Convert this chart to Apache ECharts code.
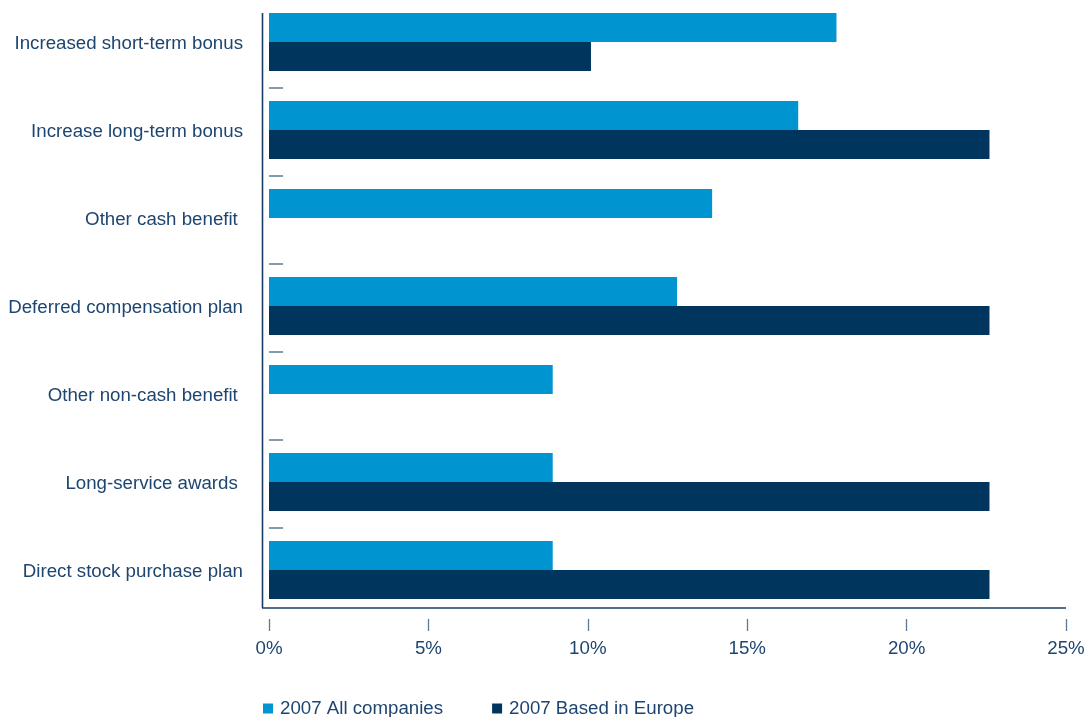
<!DOCTYPE html>
<html>
<head>
<meta charset="utf-8">
<script src="https://cdn.jsdelivr.net/npm/echarts@6/dist/echarts.min.js"></script>
<style>
  html, body { margin: 0; padding: 0; background: #ffffff; }
  #chart { width: 1088px; height: 717px; }
</style>
</head>
<body>
<div id="chart"></div>
<script>
// Benefit types (top to bottom) and share of companies offering each, in percent
const categories = [
  'Increased short-term bonus',
  'Increase long-term bonus',
  'Other cash benefit ',
  'Deferred compensation plan',
  'Other non-cash benefit ',
  'Long-service awards ',
  'Direct stock purchase plan'
];
const seriesNames = ['2007 All companies', '2007 Based in Europe'];
const allCompanies = [17.8, 16.6, 13.9, 12.8, 8.9, 8.9, 8.9];
const basedInEurope = [10.1, 22.6, 0, 22.6, 0, 22.6, 22.6];
const xTicks = [0, 5, 10, 15, 20, 25];

const FONT = '"Liberation Sans", Arial, Helvetica, sans-serif';
const TEXT = '#1d4570';
const LIGHT = '#0094d1';
const DARK = '#00365e';
const TICK = '#5c7995';
const AXIS = '#1b3c62';

// Bars sit slightly above the band middle; separators and names use their own grid.
const barGrid = { left: 269, right: 22, top: -2, height: 616, outerBoundsMode: 'none' };
const sepGrid = { left: 269, right: 22, top: 0, height: 616, outerBoundsMode: 'none' };

const chart = echarts.init(document.getElementById('chart'), null, { renderer: 'canvas' });

// One slot per band boundary, used only for the short separators between categories.
const boundarySlots = [''].concat(categories.map(() => ''));

chart.setOption({
  animation: false,
  backgroundColor: '#ffffff',
  textStyle: { fontFamily: FONT },
  grid: [barGrid, sepGrid],
  legend: {
    left: 258,
    top: 694,
    itemWidth: 10,
    itemHeight: 10,
    itemGap: 49,
    icon: 'rect',
    textStyle: { fontFamily: FONT, fontSize: 18.7, color: TEXT, padding: [0, 0, 0, 2] },
    data: seriesNames
  },
  xAxis: [
    {
      type: 'value',
      gridIndex: 1,
      min: xTicks[0],
      max: xTicks[xTicks.length - 1],
      interval: xTicks[1] - xTicks[0],
      offset: 3,
      axisLine: { show: false },
      axisTick: { show: true, length: 12, lineStyle: { color: TICK, width: 1.3 } },
      splitLine: { show: false },
      axisLabel: {
        margin: 20,
        fontFamily: FONT,
        fontSize: 18.7,
        color: TEXT,
        formatter: '{value}%'
      }
    },
    {
      type: 'value',
      gridIndex: 0,
      min: xTicks[0],
      max: xTicks[xTicks.length - 1],
      show: false
    }
  ],
  yAxis: [
    {
      type: 'category',
      gridIndex: 0,
      position: 'left',
      data: categories,
      inverse: true,
      axisLine: { show: false },
      axisTick: { show: false },
      axisLabel: { show: false }
    },
    {
      type: 'category',
      gridIndex: 1,
      position: 'left',
      offset: 0,
      data: boundarySlots,
      boundaryGap: false,
      inverse: true,
      axisLine: { show: false },
      axisLabel: { show: false },
      axisTick: {
        show: true,
        inside: true,
        length: 14,
        interval: (i) => i > 0 && i < boundarySlots.length - 1,
        lineStyle: { color: TICK, width: 1.5 }
      }
    },
    {
      // category names, centred in the bands of the separator grid
      type: 'category',
      gridIndex: 1,
      position: 'left',
      offset: 0,
      data: categories,
      inverse: true,
      axisLine: { show: false },
      axisTick: { show: false },
      axisLabel: {
        margin: 26,
        fontFamily: FONT,
        fontSize: 18.7,
        color: TEXT
      }
    }
  ],
  series: [
    {
      name: seriesNames[0],
      type: 'bar',
      xAxisIndex: 1,
      yAxisIndex: 0,
      data: allCompanies,
      barWidth: 29,
      barGap: '0%',
      itemStyle: { color: LIGHT }
    },
    {
      name: seriesNames[1],
      type: 'bar',
      xAxisIndex: 1,
      yAxisIndex: 0,
      data: basedInEurope,
      barWidth: 29,
      barGap: '0%',
      itemStyle: { color: DARK }
    }
  ],
  graphic: [
    {
      type: 'line',
      silent: true,
      shape: { x1: 262.5, y1: 13, x2: 262.5, y2: 608 },
      style: { stroke: AXIS, lineWidth: 1.6 }
    },
    {
      type: 'line',
      silent: true,
      shape: { x1: 262, y1: 608, x2: 1066, y2: 608 },
      style: { stroke: AXIS, lineWidth: 1.4 }
    }
  ]
});
</script>
</body>
</html>
